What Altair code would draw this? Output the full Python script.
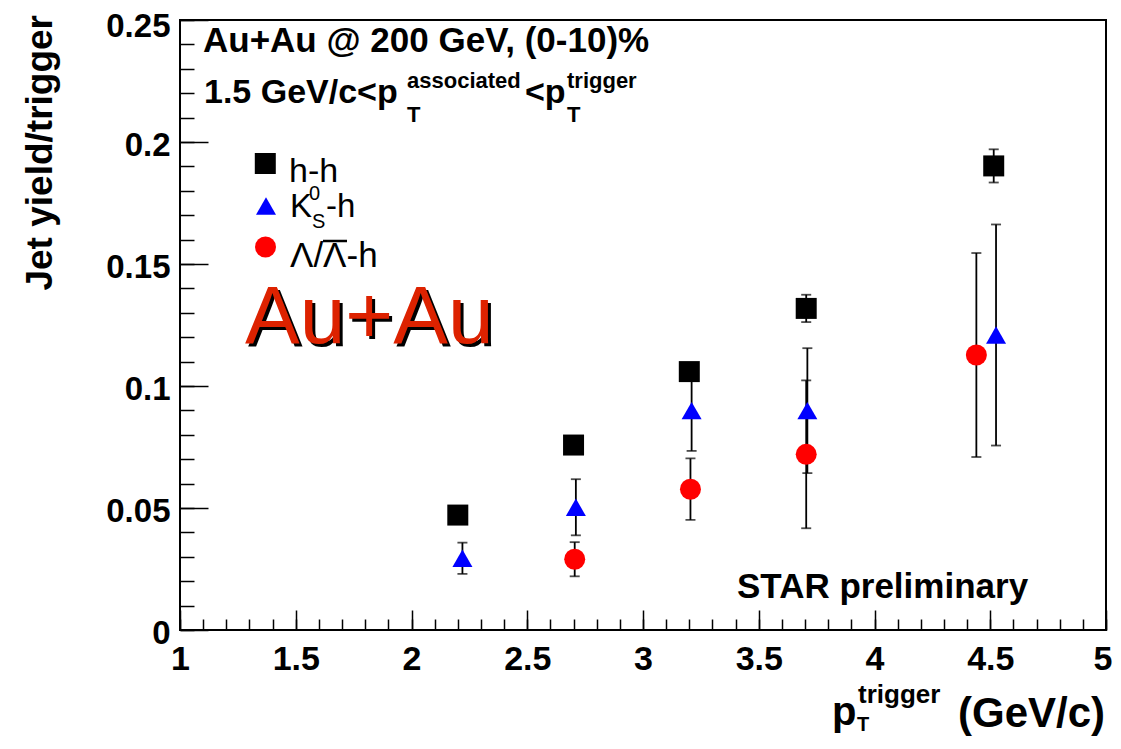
import altair as alt
import pandas as pd

# ---------------- data ----------------
series_names = ["h-h", "K0s-h", "Lambda-h"]

pt_hh = [2.20, 2.70, 3.20, 3.705, 4.515]
y_hh = [0.0471, 0.0758, 0.1059, 0.1318, 0.1902]
e_hh = [0.002, 0.002, 0.002, 0.0056, 0.0068]

pt_k0 = [2.22, 2.71, 3.21, 3.71, 4.525]
y_k0 = [0.0294, 0.0503, 0.0899, 0.0899, 0.1209]
e_k0 = [0.0064, 0.0115, 0.0165, 0.0256, 0.0453]

pt_la = [2.705, 3.205, 3.705, 4.44]
y_la = [0.0290, 0.0577, 0.0720, 0.1127]
e_la = [0.0070, 0.0126, 0.0303, 0.0418]

x_major = [1, 1.5, 2, 2.5, 3, 3.5, 4, 4.5, 5]
x_minor = [round(1 + 0.1 * i, 2) for i in range(41)]
y_major = [0, 0.05, 0.1, 0.15, 0.2, 0.25]
y_minor = [round(0.01 * i, 3) for i in range(26)]

# ---------------- styles ----------------
FONT = "Liberation Sans"
W, H = 926, 610
marker_shape = {"h-h": "square", "K0s-h": "triangle-up", "Lambda-h": "circle"}
marker_color = {"h-h": "black", "K0s-h": "#0000ff", "Lambda-h": "#ff0000"}
marker_size = {"h-h": 441, "K0s-h": 400, "Lambda-h": 441}

rows = []
for name, xs, ys, es in [("h-h", pt_hh, y_hh, e_hh),
                         ("K0s-h", pt_k0, y_k0, e_k0),
                         ("Lambda-h", pt_la, y_la, e_la)]:
    for xv, yv, ev in zip(xs, ys, es):
        rows.append({"series": name, "pt": xv, "y": yv, "err": ev})
df = pd.DataFrame(rows)

xsc = alt.Scale(domain=[1, 5], nice=False, zero=False)
ysc = alt.Scale(domain=[0, 0.25], nice=False, zero=False)


def tick_axis(orient, values, size):
    return alt.Axis(orient=orient, values=values, offset=-size, tickSize=size,
                    tickColor="black", tickWidth=1.5, labels=False,
                    domain=False, grid=False, title=None)


base = alt.Chart(df).transform_calculate(
    lo="datum.y - datum.err", hi="datum.y + datum.err")

# error bars (carry the major inward ticks)
bars = base.mark_rule(color="black", strokeWidth=1.8).encode(
    x=alt.X("pt:Q", scale=xsc, axis=tick_axis("bottom", x_major, 20)),
    y=alt.Y("lo:Q", scale=ysc, axis=tick_axis("left", y_major, 28)),
    y2="hi:Q",
)

# caps (carry the minor inward ticks)
caps = base.transform_fold(["lo", "hi"], as_=["end", "val"]).mark_tick(
    orient="horizontal", size=10, thickness=1.8, color="black").encode(
    x=alt.X("pt:Q", scale=xsc, axis=tick_axis("bottom", x_minor, 11)),
    y=alt.Y("val:Q", scale=ysc, axis=tick_axis("left", y_minor, 14)),
)

label_x_axis = alt.Axis(
    orient="bottom", values=x_major, format="~g",
    labelFont=FONT, labelFontSize=34, labelFontWeight="bold",
    labelColor="black", labelPadding=12, ticks=False,
    labelAlign={"condition": {"test": "datum.value == 5", "value": "right"},
                "value": "center"},
    labelOffset={"condition": {"test": "datum.value == 5", "value": 6},
                 "value": 0},
    domain=False, grid=False, title=None, labelFlush=False)
label_y_axis = alt.Axis(
    orient="left", values=y_major, format="~g",
    labelFont=FONT, labelFontSize=33, labelFontWeight="bold",
    labelColor="black", labelPadding=10,
    labelOffset={"condition": {"test": "datum.value == 0.25", "value": 6},
                 "value": 3},
    ticks=False, domain=False, grid=False, title=None, labelFlush=False)

point_layers = []
for i, name in enumerate(series_names):
    sub = alt.Chart(df).transform_filter(alt.datum.series == name).mark_point(
        shape=marker_shape[name], filled=True, opacity=1, strokeWidth=0,
        size=marker_size[name], color=marker_color[name])
    if i == 0:
        sub = sub.encode(x=alt.X("pt:Q", scale=xsc, axis=label_x_axis),
                         y=alt.Y("y:Q", scale=ysc, axis=label_y_axis))
    else:
        sub = sub.encode(x=alt.X("pt:Q", scale=xsc, axis=None),
                         y=alt.Y("y:Q", scale=ysc, axis=None))
    point_layers.append(sub)

one = alt.InlineData(values=[{"a": 1}])


def txt(s, x, y, size, bold=True, color="black", angle=0, align="left",
        font=FONT):
    return alt.Chart(one).mark_text(
        text=s, font=font, fontSize=size,
        fontWeight="bold" if bold else "normal", color=color, align=align,
        baseline="alphabetic", angle=angle).encode(
        x=alt.value(x), y=alt.value(y))


def marker(shape, color, size, x, y):
    return alt.Chart(one).mark_point(shape=shape, filled=True, opacity=1,
                                     strokeWidth=0, size=size, color=color).encode(
        x=alt.value(x), y=alt.value(y))


annot = [
    txt("Au+Au @ 200 GeV, (0-10)%", 23, 32, 35),
    txt("1.5 GeV/c<p", 24, 83, 34),
    txt("associated", 227, 68, 22),
    txt("T", 227, 102, 22),
    txt("<p", 345, 83, 34),
    txt("trigger", 387, 68, 22),
    txt("T", 387, 102, 22),
    # legend
    marker("square", "black", 441, 85.3, 143.5),
    marker("triangle-up", "#0000ff", 400, 86, 186),
    marker("circle", "#ff0000", 441, 85.5, 227),
    txt("h-h", 109, 162, 34, bold=False),
    txt("K", 110, 197, 33, bold=False),
    txt("0", 129, 180, 20, bold=False),
    txt("S", 132, 208, 20, bold=False),
    txt("-h", 146, 197, 33, bold=False),
    txt("Λ/Λ-h", 110, 247, 35, bold=False),
    alt.Chart(one).mark_rule(color="black", strokeWidth=2.5).encode(
        x=alt.value(143), x2=alt.value(167), y=alt.value(221)),
    # big label with shadow
    txt("Au+Au", 68, 326, 82, bold=False, color="black"),
    txt("Au+Au", 65, 323, 82, bold=False, color="#dd2200"),
    txt("STAR preliminary", 557, 578, 35),
    # axis titles
    txt("Jet yield/trigger", -128, -5, 37, angle=270, align="right"),
    txt("p", 652, 705, 40),
    txt("trigger", 678, 683, 26),
    txt("T", 677, 711, 20),
    txt("(GeV/c)", 778, 707, 42),
]

chart = alt.layer(bars, caps, *point_layers, *annot).resolve_axis(
    x="independent", y="independent"
).properties(
    width=W, height=H,
    autosize=alt.AutoSizeParams(type="none"),
    padding={"left": 172, "top": 12, "right": 7, "bottom": 107},
    background="white",
).configure_view(stroke="black", strokeWidth=2)

chart.save("out.html", embed_options={"renderer": "svg", "actions": False})
